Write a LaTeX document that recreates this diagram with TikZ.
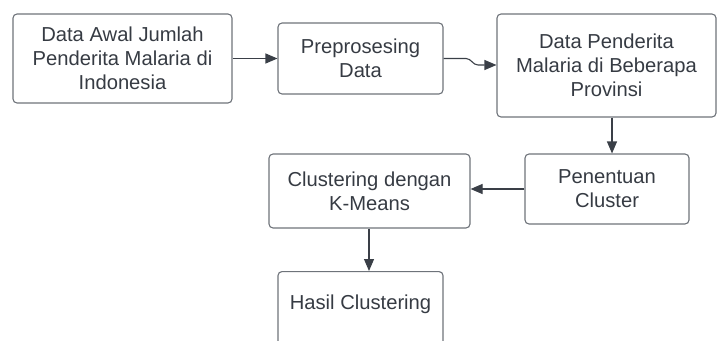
\documentclass[tikz,border=0pt]{standalone}
\usepackage{fontspec}
\setmainfont{Liberation Sans}
\usetikzlibrary{arrows.meta}
\definecolor{txt}{HTML}{363B43}
\definecolor{brd}{HTML}{6E737A}
\definecolor{arr}{HTML}{3A3F47}
\begin{document}
\begin{tikzpicture}[x=1pt,y=-1pt,
  box/.style={draw=brd,line width=1.1pt,rounded corners=4pt,align=center,
    text=txt,font=\fontsize{20.2}{24}\selectfont,inner sep=0pt},
  conn/.style={draw=arr,line width=1.1pt,-{Triangle[length=12pt,width=10pt]}}]
\useasboundingbox (0,0) rectangle (717,340);
\clip (0,0) rectangle (717,340);
\node[box,minimum width=219pt,minimum height=89pt] (b1) at (122.5,58.5)
  {Data Awal Jumlah\\Penderita Malaria di\\Indonesia};
\node[box,minimum width=165pt,minimum height=71pt] (b2) at (360.5,58.5)
  {Preprosesing\\Data};
\node[box,minimum width=219pt,minimum height=103pt] (b3) at (606.5,65.5)
  {Data Penderita\\Malaria di Beberapa\\Provinsi};
\node[box,minimum width=164pt,minimum height=70pt] (b4) at (607,189)
  {Penentuan\\Cluster};
\node[box,minimum width=201pt,minimum height=74pt] (b5) at (369.5,191)
  {Clustering dengan\\K-Means};
\node[box,minimum width=165pt,minimum height=90pt,anchor=north] (b6) at (360.5,271) {};
\node[text=txt,font=\fontsize{20.2}{24}\selectfont] (t6) at (360.5,304) {Hasil Clustering};
\draw[conn] (b1.east) -- (b2.west);
\coordinate (j1) at (466,58.5);
\coordinate (j2) at (478,65);
\draw[conn] (b2.east) -- (j1) to[out=0,in=180] (j2) -- (j2 -| b3.west);
\draw[conn] (b3.south -| 612,0) -- (b4.north -| 612,0);
\draw[conn] (b4.west |- 0,189) -- (b5.east |- 0,189);
\draw[conn] (b5.south -| 369,0) -- (b6.north -| 369,0);
\end{tikzpicture}
\end{document}
